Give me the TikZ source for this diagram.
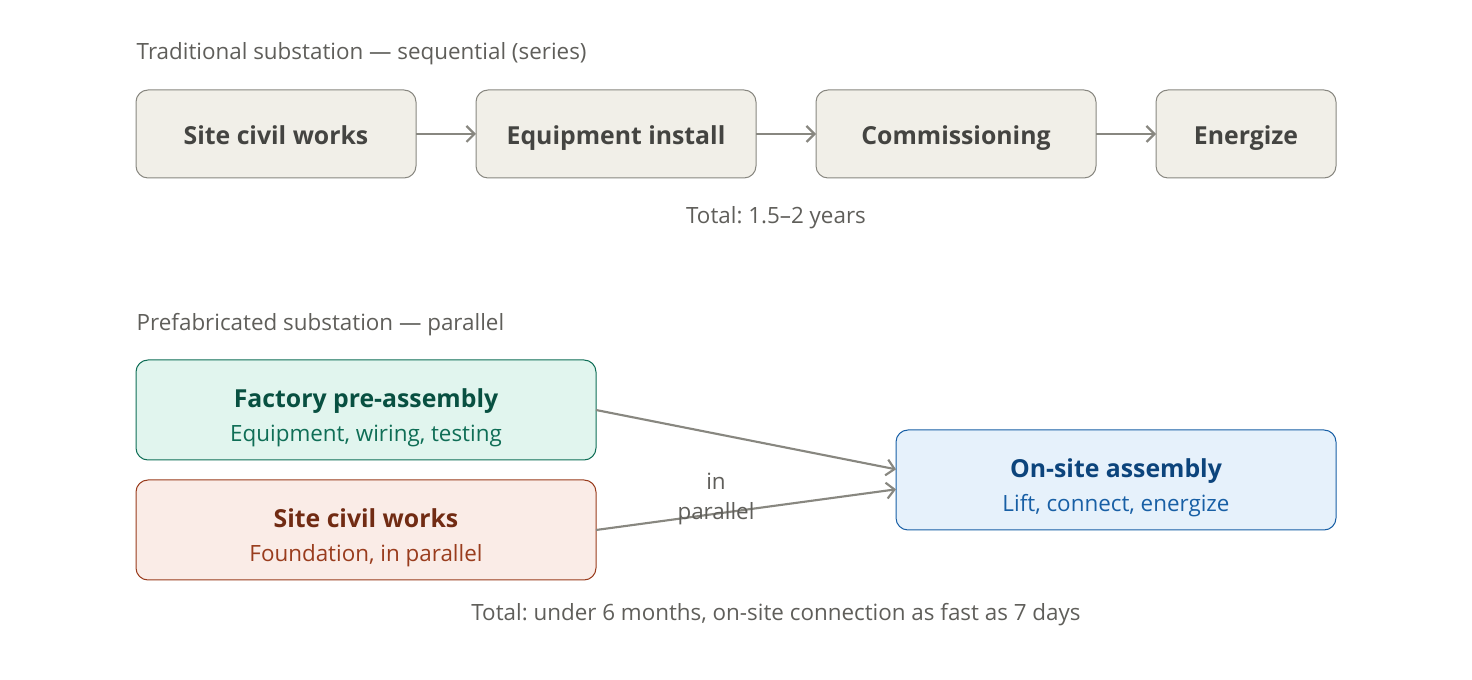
\documentclass[tikz,border=0pt]{standalone}
\usepackage{fontspec}
\setmainfont{Open Sans}
\frenchspacing
\usepackage{tikz}
\usetikzlibrary{positioning}
\usetikzlibrary{arrows.meta}
\usepackage{xcolor}

\definecolor{graybox}{HTML}{F1EFE8}
\definecolor{grayline}{HTML}{888780}
\definecolor{graytext}{HTML}{444441}
\definecolor{labeltext}{HTML}{5F5E5A}
\definecolor{greenfill}{HTML}{E1F5EE}
\definecolor{greenline}{HTML}{0F6E56}
\definecolor{greendark}{HTML}{085041}
\definecolor{redfill}{HTML}{FAECE7}
\definecolor{redline}{HTML}{993C1D}
\definecolor{reddark}{HTML}{712B13}
\definecolor{bluefill}{HTML}{E6F1FB}
\definecolor{blueline}{HTML}{185FA5}
\definecolor{bluedark}{HTML}{0C447C}

\begin{document}
\begin{tikzpicture}[x=0.75pt,y=-0.75pt,
  stepbox/.style={draw=grayline,fill=graybox,rounded corners=9pt,line width=0.75pt,outer sep=0pt,
    minimum height=66pt,text height=18pt,text depth=1.5pt,text=graytext,
    font=\fontsize{18.6}{22}\selectfont\bfseries},
  phasebox/.style={rounded corners=9pt,line width=0.75pt,outer sep=0pt,minimum width=345pt,
    minimum height=75pt},
  phasetitle/.style={anchor=base,font=\fontsize{18.6}{22}\selectfont\bfseries},
  phasenote/.style={anchor=base,font=\fontsize{16.8}{20}\selectfont},
  flow/.style={draw=grayline,line width=1.6pt,-{Straight Barb[length=6pt,width=12pt,line width=1.6pt]}},
  caption/.style={text=labeltext,font=\fontsize{16.8}{20}\selectfont}]
\useasboundingbox (0,0) rectangle (1472,680);

% sequential row
\node [caption,anchor=west] (tradtitle) at (132,54) {Traditional substation --- sequential (series)};
\node [stepbox,minimum width=210pt] (civil) at (276,134) {Site civil works};
\node [stepbox,minimum width=210pt,right=45pt of civil] (install) {Equipment install};
\node [stepbox,minimum width=210pt,right=45pt of install] (commission) {Commissioning};
\node [stepbox,minimum width=135pt,right=45pt of commission] (energize) {Energize};
\draw [flow] (civil) -- (install);
\draw [flow] (install) -- (commission);
\draw [flow] (commission) -- (energize);
\node [caption] (tradtotal) at (776,218) {Total: 1.5--2 years};

% parallel row
\node [caption,anchor=west] (prefabtitle) at (132,325) {Prefabricated substation --- parallel};
\node [phasebox,draw=greenline,fill=greenfill] (factory) at (366,410) {};
\node [phasetitle,text=greendark] (factoryname) at ([yshift=1.5pt]factory.center) {Factory pre-assembly};
\node [phasenote,text=greenline] (factorynote) at ([yshift=-24pt]factory.center) {Equipment, wiring, testing};
\node [phasebox,draw=redline,fill=redfill] (sitecivil) at (366,530) {};
\node [phasetitle,text=reddark] (sitecivilname) at ([yshift=1.5pt]sitecivil.center) {Site civil works};
\node [phasenote,text=redline] (sitecivilnote) at ([yshift=-24pt]sitecivil.center) {Foundation, in parallel};
\node [phasebox,draw=blueline,fill=bluefill,minimum width=330pt] (onsite) at (1116,480) {};
\node [phasetitle,text=bluedark] (onsitename) at ([yshift=1.5pt]onsite.center) {On-site assembly};
\node [phasenote,text=blueline] (onsitenote) at ([yshift=-24pt]onsite.center) {Lift, connect, energize};
\draw [flow] (factory.east) -- ([yshift=8pt]onsite.west);
\draw [flow] (sitecivil.east) -- ([yshift=-7pt]onsite.west);
\node [caption,align=center,font=\fontsize{16.8}{22.5}\selectfont] (inpar) at (716,499) {in\\parallel};
\node [caption] (prefabtotal) at (776,615) {Total: under 6 months, on-site connection as fast as 7 days};

\end{tikzpicture}
\end{document}
